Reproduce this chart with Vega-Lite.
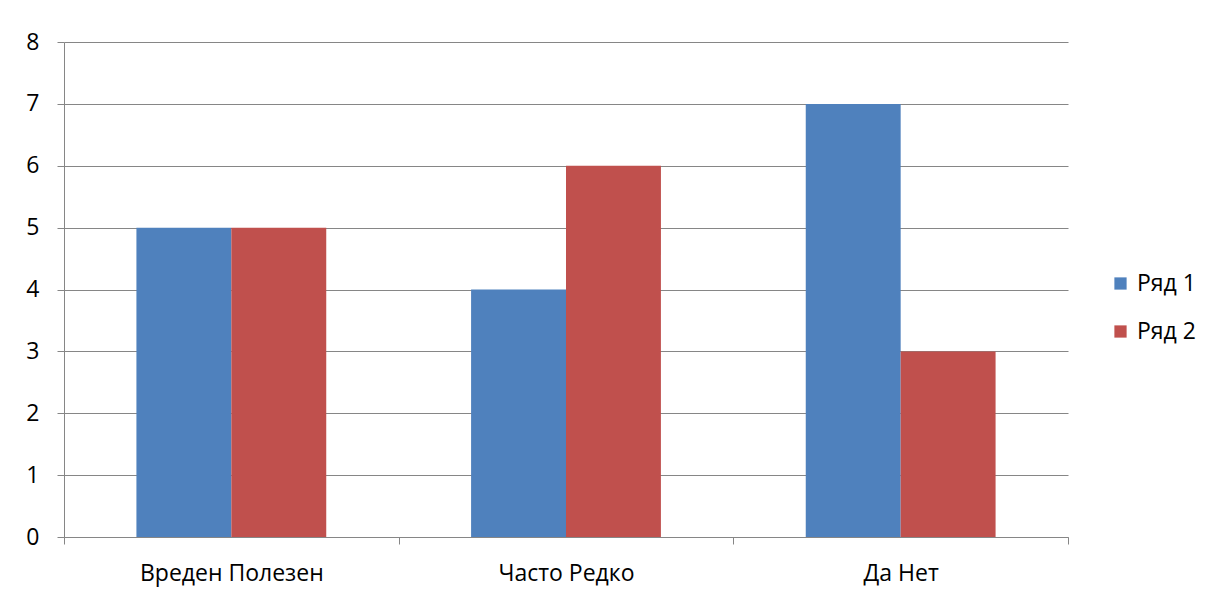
{
  "$schema": "https://vega.github.io/schema/vega-lite/v6.json",
  "width": 1004,
  "height": 495,
  "autosize": {"type": "none"},
  "padding": {"left": 64, "top": 42, "right": 139, "bottom": 58},
  "background": "white",
  "data": {
    "values": [
      {"category": "Вреден Полезен", "series": "Ряд 1", "value": 5},
      {"category": "Вреден Полезен", "series": "Ряд 2", "value": 5},
      {"category": "Часто Редко", "series": "Ряд 1", "value": 4},
      {"category": "Часто Редко", "series": "Ряд 2", "value": 6},
      {"category": "Да Нет", "series": "Ряд 1", "value": 7},
      {"category": "Да Нет", "series": "Ряд 2", "value": 3}
    ]
  },
  "mark": {"type": "bar", "stroke": null},
  "encoding": {
    "x": {
      "field": "category",
      "type": "nominal",
      "sort": ["Вреден Полезен", "Часто Редко", "Да Нет"],
      "scale": {"paddingInner": 0, "paddingOuter": 0},
      "axis": {
        "title": null,
        "labelAngle": 0,
        "tickBand": "extent",
        "tickSize": 7,
        "labelPadding": 18,
        "labelLimit": 400,
        "labelFont": "Open Sans",
        "labelFontSize": 23,
        "labelColor": "#000000",
        "grid": false
      }
    },
    "xOffset": {
      "field": "series",
      "type": "nominal",
      "scale": {"paddingOuter": 0.763, "paddingInner": 0}
    },
    "y": {
      "field": "value",
      "type": "quantitative",
      "scale": {"domain": [0, 8], "nice": false},
      "axis": {
        "title": null,
        "values": [0, 1, 2, 3, 4, 5, 6, 7, 8],
        "tickSize": 7,
        "labelPadding": 18,
        "labelFont": "Open Sans",
        "labelFontSize": 23,
        "labelColor": "#000000",
        "grid": true
      }
    },
    "color": {
      "field": "series",
      "type": "nominal",
      "scale": {"domain": ["Ряд 1", "Ряд 2"], "range": ["#4F81BD", "#C0504D"]},
      "legend": {
        "title": null,
        "orient": "none",
        "legendX": 1045,
        "legendY": 230,
        "symbolType": "square",
        "symbolSize": 150,
        "symbolStrokeWidth": 0,
        "labelFontSize": 23,
        "labelFont": "Open Sans",
        "labelColor": "#000000",
        "rowPadding": 24,
        "labelOffset": 5
      }
    }
  },
  "config": {
    "view": {"stroke": null},
    "axis": {
      "domainColor": "#868686",
      "tickColor": "#868686",
      "gridColor": "#868686",
      "gridOpacity": 1,
      "domainWidth": 1
    }
  }
}
